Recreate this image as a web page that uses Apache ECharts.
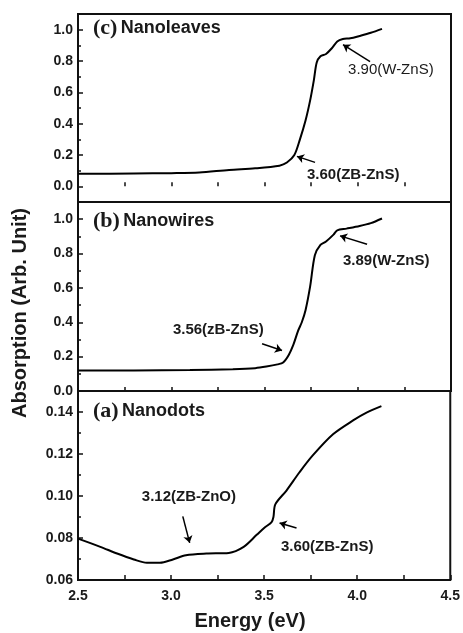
<!DOCTYPE html>
<html>
<head>
<meta charset="utf-8">
<script src="https://cdn.jsdelivr.net/npm/echarts@6/dist/echarts.min.js"></script>
<style>html,body{margin:0;padding:0;background:#fff}#c{width:463px;height:633px}</style>
</head>
<body>
<div id="c"></div>
<script>
// ---- data ----
const xTicks = [2.5, 3.0, 3.5, 4.0, 4.5];
// (c) Nanoleaves
const leavesE = [2.5, 2.8, 3.0, 3.15, 3.31, 3.45, 3.58, 3.62, 3.66, 3.69, 3.72, 3.745, 3.765, 3.78, 3.80, 3.83, 3.86, 3.89, 3.92, 3.96, 4.01, 4.07, 4.13];
const leavesA = [0.08, 0.082, 0.084, 0.088, 0.105, 0.115, 0.132, 0.152, 0.20, 0.30, 0.42, 0.55, 0.68, 0.79, 0.83, 0.845, 0.88, 0.925, 0.94, 0.945, 0.96, 0.98, 1.005];
// (b) Nanowires
const wiresE = [2.5, 2.8, 3.1, 3.33, 3.45, 3.51, 3.57, 3.60, 3.63, 3.655, 3.68, 3.70, 3.72, 3.745, 3.77, 3.80, 3.83, 3.87, 3.89, 3.94, 4.01, 4.07, 4.13];
const wiresA = [0.12, 0.12, 0.122, 0.127, 0.133, 0.142, 0.155, 0.166, 0.21, 0.27, 0.35, 0.40, 0.47, 0.61, 0.79, 0.85, 0.87, 0.91, 0.935, 0.945, 0.96, 0.977, 1.004];
// (a) Nanodots
const dotsE = [2.5, 2.62, 2.71, 2.80, 2.87, 2.94, 3.01, 3.08, 3.19, 3.31, 3.39, 3.46, 3.50, 3.54, 3.55, 3.56, 3.62, 3.69, 3.76, 3.87, 3.98, 4.05, 4.13];
const dotsA = [0.0797, 0.0758, 0.0726, 0.0698, 0.0682, 0.0682, 0.0698, 0.0718, 0.0726, 0.0729, 0.0758, 0.0815, 0.0848, 0.0876, 0.0900, 0.0960, 0.1026, 0.1113, 0.1192, 0.1294, 0.1361, 0.1397, 0.1428];
// y tick labels
const yTicksTop = [0.0, 0.2, 0.4, 0.6, 0.8, 1.0];
const yMinorTop = [-0.1, 0.1, 0.3, 0.5, 0.7, 0.9];
const yMinorMid = [0.1, 0.3, 0.5, 0.7, 0.9];
const yTicksBot = [0.06, 0.08, 0.10, 0.12, 0.14];
const yMinorBot = [0.07, 0.09, 0.11, 0.13];
// annotations: [arrowFromE, arrowFromA, arrowToE, arrowToA]
const leavesArrows = [[4.066, 0.796, 3.921, 0.904], [3.771, 0.153, 3.674, 0.191]];
const leavesNotes = [["3.90(W-ZnS)", 3.948, 0.745, "normal"], ["3.60(ZB-ZnS)", 3.728, 0.076, "bold"]];
const wiresArrows = [[4.050, 0.854, 3.905, 0.903], [3.487, 0.275, 3.594, 0.236]];
const wiresNotes = [["3.89(W-ZnS)", 3.921, 0.756, "bold"], ["3.56(zB-ZnS)", 3.009, 0.357, "bold"]];
const dotsArrows = [[3.063, 0.0903, 3.100, 0.0777], [3.674, 0.0848, 3.583, 0.0871]];
const dotsNotes = [["3.12(ZB-ZnO)", 2.843, 0.0994, "bold"], ["3.60(ZB-ZnS)", 3.590, 0.0758, "bold"]];

const FONT = '"Liberation Sans", Arial, sans-serif';
const INK = '#111';

const grids = [
  {left: 78, right: 12, top: 14, height: 188, show: true, borderColor: INK, borderWidth: 2, backgroundColor: 'transparent'},
  {left: 78, right: 12, top: 202, height: 189, show: true, borderColor: INK, borderWidth: 2, backgroundColor: 'transparent'},
  {left: 78, right: 12, top: 391, height: 189, show: true, borderColor: INK, borderWidth: 2, backgroundColor: 'transparent'}
];

function xAx(i, showLabels) {
  return {
    type: 'value', gridIndex: i, min: 2.5, max: 4.5, interval: 0.5,
    axisLine: {show: false},
    splitLine: {show: false},
    axisTick: {show: true, inside: true, length: showLabels ? 5 : 4, lineStyle: {color: INK, width: 1.5}},
    minorTick: {show: true, splitNumber: 2, length: showLabels ? 5 : 4, lineStyle: {color: INK, width: 1.5}},
    axisLabel: {show: showLabels, customValues: xTicks, formatter: v => v.toFixed(1), fontFamily: FONT, fontWeight: 'bold', fontSize: 14, color: '#1a1a1a', margin: 9}
  };
}
function yAx(i, min, max, ticks, dec) {
  return {
    type: 'value', gridIndex: i, min: min, max: max, position: 'left',
    axisLine: {show: false}, splitLine: {show: false},
    axisTick: {show: true, inside: true, length: 5, customValues: ticks, lineStyle: {color: INK, width: 1.5}},
    axisLabel: {show: true, customValues: ticks, formatter: v => v.toFixed(dec), fontFamily: FONT, fontWeight: 'bold', fontSize: 14, color: '#1a1a1a', margin: 5}
  };
}
function yMinor(i, min, max, ticks) {
  return {
    type: 'value', gridIndex: i, min: min, max: max, position: 'left',
    axisLine: {show: false}, splitLine: {show: false},
    axisTick: {show: true, inside: true, length: 3, customValues: ticks, lineStyle: {color: INK, width: 1.5}},
    axisLabel: {show: false}
  };
}
function zip(a, b) { return a.map((x, k) => [x, b[k]]); }
function mkSeries(i, xs, ys, arrows, notes) {
  return {
    type: 'line', xAxisIndex: i, yAxisIndex: i, data: zip(xs, ys),
    showSymbol: false, smooth: 0.3,
    itemStyle: {color: '#000'},
    lineStyle: {color: '#000', width: 2}, silent: true,
    markLine: {
      silent: true, symbol: ['none', 'arrow'], symbolSize: 7, precision: 4,
      label: {show: false},
      itemStyle: {color: '#000'},
      lineStyle: {color: '#000', width: 1.5, type: 'solid'},
      emphasis: {disabled: true},
      data: arrows.map(a => [{coord: [a[0], a[1]]}, {coord: [a[2], a[3]]}])
    },
    markPoint: {
      silent: true, symbol: 'circle', symbolSize: 0,
      data: notes.map(n => ({coord: [n[1], n[2]], value: n[0],
        label: {show: true, position: 'right', distance: 0, formatter: n[0], fontFamily: FONT, fontWeight: n[3], fontSize: 15, color: '#1a1a1a'}}))
    }
  };
}

const chart = echarts.init(document.getElementById('c'), null, {renderer: 'canvas'});
chart.setOption({
  animation: false,
  backgroundColor: '#fff',
  grid: grids,
  xAxis: [xAx(0, false), xAx(1, false), xAx(2, true)],
  yAxis: [
    yAx(0, -0.1, 1.1, yTicksTop, 1),
    yAx(1, 0, 1.1, yTicksTop, 1),
    yAx(2, 0.06, 0.15, yTicksBot, 2),
    yMinor(0, -0.1, 1.1, yMinorTop),
    yMinor(1, 0, 1.1, yMinorMid),
    yMinor(2, 0.06, 0.15, yMinorBot)
  ],
  series: [
    mkSeries(0, leavesE, leavesA, leavesArrows, leavesNotes),
    mkSeries(1, wiresE, wiresA, wiresArrows, wiresNotes),
    mkSeries(2, dotsE, dotsA, dotsArrows, dotsNotes)
  ],
  graphic: [
    {type: 'text', left: 93, top: 17, style: {text: '{p|(c)} {n|Nanoleaves}', rich: {
      p: {font: 'bold 22px "Liberation Serif", serif', fill: '#1a1a1a'},
      n: {font: 'bold 18px ' + FONT, fill: '#1a1a1a'}}}},
    {type: 'text', left: 93, top: 210, style: {text: '{p|(b)} {n|Nanowires}', rich: {
      p: {font: 'bold 22px "Liberation Serif", serif', fill: '#1a1a1a'},
      n: {font: 'bold 18px ' + FONT, fill: '#1a1a1a'}}}},
    {type: 'text', left: 93, top: 400, style: {text: '{p|(a)} {n|Nanodots}', rich: {
      p: {font: 'bold 22px "Liberation Serif", serif', fill: '#1a1a1a'},
      n: {font: 'bold 18px ' + FONT, fill: '#1a1a1a'}}}},
    {type: 'text', x: 250, y: 621, style: {text: 'Energy (eV)', font: 'bold 20px ' + FONT, fill: '#1a1a1a', textAlign: 'center', textVerticalAlign: 'middle'}},
    {type: 'text', x: 20, y: 313, rotation: Math.PI / 2, style: {text: 'Absorption (Arb. Unit)', font: 'bold 20px ' + FONT, fill: '#1a1a1a', textAlign: 'center', textVerticalAlign: 'middle'}}
  ]
});
</script>
</body>
</html>
